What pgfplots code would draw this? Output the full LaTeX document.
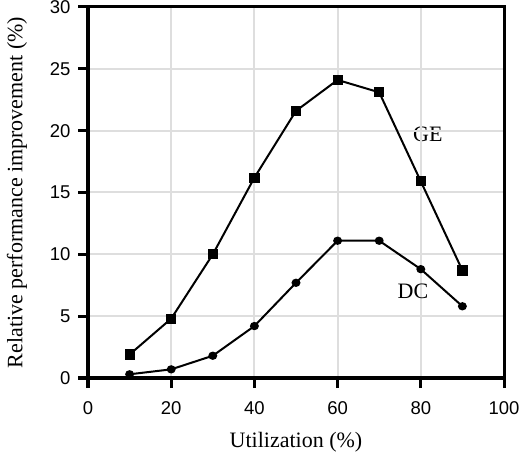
\documentclass[border=0pt]{standalone}
\usepackage{fontspec}
\setmainfont{Liberation Serif}
\newfontfamily\ticksans{Liberation Sans}
\usepackage{pgfplots}
\pgfplotsset{compat=1.18}
\begin{document}
\begin{tikzpicture}
  \begin{axis}[
      set layers,
      scale only axis,
      at={(0,0)}, anchor=south west,
      width=416bp, height=371bp,
      xmin=0, xmax=100, ymin=0, ymax=30,
      xtick={0,20,...,100}, ytick={0,5,...,30},
      tick pos=left, tick align=outside,
      major tick length=10bp,
      major tick style={line width=3bp, black},
      axis line style={line width=3bp},
      grid=major,
      major grid style={line width=2bp, color=black!13},
      tick label style={font=\ticksans\fontsize{18.5bp}{20bp}\selectfont},
      xticklabel style={yshift=-10bp},
      yticklabel style={xshift=-4bp},
      /pgf/number format/assume math mode=true,
      label style={font=\fontsize{22bp}{24bp}\selectfont},
      xlabel={Utilization (\%)},
      ylabel={Relative performance improvement (\%)},
      xlabel style={yshift=-11bp},
      ylabel style={yshift=16bp},
      clip=false,
    ]
    \addplot[black, line width=2bp, mark=square*, mark size=4.1bp, mark options={solid}] coordinates {
        (10,1.9) (20,4.8) (30,10.0) (40,16.2) (50,21.6)
        (60,24.1) (70,23.1) (80,15.9) (90,8.7)
      };
    \addplot[black, line width=2bp, mark=*, mark size=3.1bp, mark options={solid, xscale=1.1}] coordinates {
        (10,0.3) (20,0.7) (30,1.8) (40,4.2) (50,7.7)
        (60,11.1) (70,11.1) (80,8.8) (90,5.8)
      };
    \begin{pgfonlayer}{axis background}
      \node[font=\fontsize{22bp}{24bp}\selectfont] at (axis cs:81.7,19.7) {GE};
    \end{pgfonlayer}
    \node[font=\fontsize{22bp}{24bp}\selectfont] at (axis cs:78.1,7.0) {DC};
  \end{axis}
  \pgfresetboundingbox
  \useasboundingbox (-88bp,-78bp) rectangle (431bp,378bp);
\end{tikzpicture}
\end{document}
